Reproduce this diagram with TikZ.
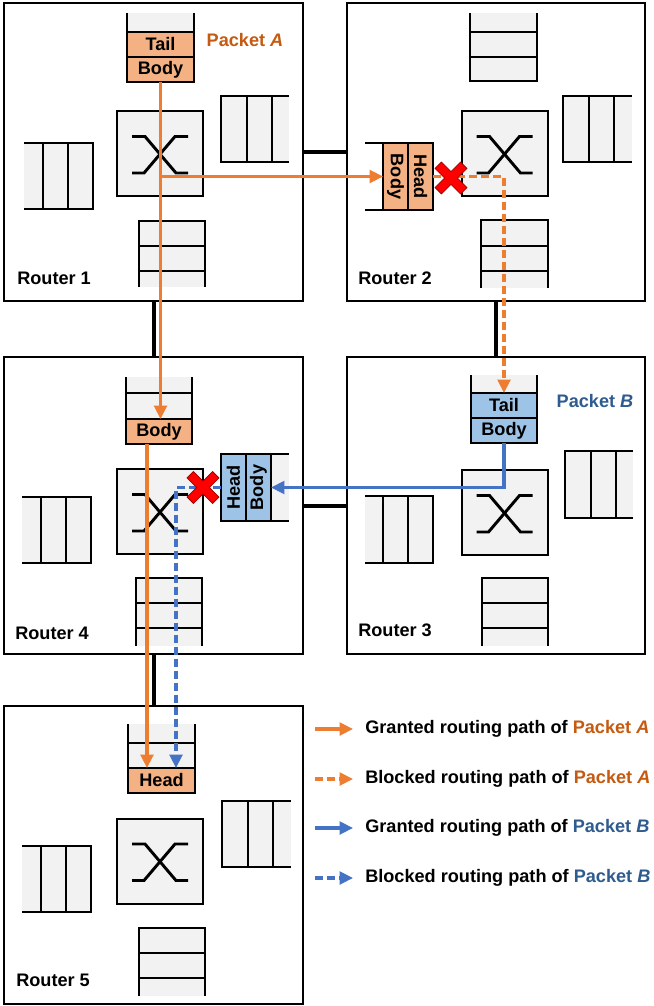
\documentclass[tikz,border=0pt]{standalone}
\usepackage{fontspec}
\setmainfont{Liberation Sans}
\usetikzlibrary{arrows.meta,calc}
\definecolor{cellAfill}{HTML}{F4B183}
\definecolor{cellBfill}{HTML}{9DC3E6}
\definecolor{lineA}{HTML}{ED7D31}
\definecolor{lineB}{HTML}{4472C4}
\definecolor{textA}{HTML}{C55A11}
\definecolor{textB}{HTML}{2F5C8F}
\definecolor{bufgray}{HTML}{F2F2F2}
\definecolor{xred}{HTML}{FF0000}
\definecolor{xredline}{HTML}{A00000}
\def\pxu{0.75pt}
\newcommand\bufN[6]{%
  \fill[bufgray] (#1,#2) rectangle (#3,#4);
  \draw[bufline] (#1,#2) -- (#1,#4) -- (#3,#4) -- (#3,#2) (#1,#5) -- (#3,#5) (#1,#6) -- (#3,#6);}
\newcommand\bufS[6]{%
  \fill[bufgray] (#1,#2) rectangle (#3,#4);
  \draw[bufline] (#1,#4) -- (#1,#2) -- (#3,#2) -- (#3,#4) (#1,#5) -- (#3,#5) (#1,#6) -- (#3,#6);}
\newcommand\bufE[6]{%
  \fill[bufgray] (#1,#2) rectangle (#3,#4);
  \draw[bufline] (#3,#2) -- (#1,#2) -- (#1,#4) -- (#3,#4) (#5,#2) -- (#5,#4) (#6,#2) -- (#6,#4);}
\newcommand\bufW[6]{%
  \fill[bufgray] (#1,#2) rectangle (#3,#4);
  \draw[bufline] (#1,#2) -- (#3,#2) -- (#3,#4) -- (#1,#4) (#5,#2) -- (#5,#4) (#6,#2) -- (#6,#4);}
\newcommand\xbar[3]{%
  \node[xbox] (#1) at (#2,#3) {};
  \draw[xline] (#2-28,#3-17) -- (#2-15,#3-17) -- (#2+16,#3+19.5) -- (#2+28,#3+19.5);
  \draw[xline] (#2+28,#3-17) -- (#2+15,#3-17) -- (#2-16,#3+19.5) -- (#2-28,#3+19.5);}
\newcommand\redx[3]{%
  \coordinate (#1) at (#2,#3);
  \begin{scope}[shift={(#1)},rotate=45]
    \filldraw[fill=xred,draw=xredline,line width=0.6pt] (4.5,18) -- (4.5,4.5) -- (18,4.5) -- (18,-4.5) -- (4.5,-4.5) -- (4.5,-18) -- (-4.5,-18) -- (-4.5,-4.5) -- (-18,-4.5) -- (-18,4.5) -- (-4.5,4.5) -- (-4.5,18) -- cycle;
  \end{scope}}
\begin{document}
\begin{tikzpicture}[x=0.75pt,y=-0.75pt,
  font=\fontsize{13.6}{15}\selectfont\bfseries,
  router/.style={draw,line width=1.5pt,fill=white,inner sep=0pt,outer sep=0pt},
  link/.style={line width=3pt},
  bufline/.style={line width=1.5pt},
  xbox/.style={draw,fill=bufgray,line width=1.5pt,minimum width=86*\pxu,minimum height=85*\pxu,inner sep=0pt,outer sep=0pt},
  xline/.style={line width=2.2pt},
  cellA/.style={draw,line width=1.5pt,fill=cellAfill,inner sep=0pt,outer sep=0pt},
  cellB/.style={draw,line width=1.5pt,fill=cellBfill,inner sep=0pt,outer sep=0pt},
  vcell/.style={minimum width=67*\pxu,minimum height=25*\pxu},
  hcell/.style={minimum width=25*\pxu,minimum height=67*\pxu},
  tip/.style={-{Triangle[length=10pt,width=9.5pt]}},
  pathA/.style={draw=lineA,line width=2.3pt,tip},
  pathAb/.style={pathA,dash pattern=on 6pt off 3pt},
  pathB/.style={draw=lineB,line width=2.3pt,tip},
  pathBb/.style={pathB,dash pattern=on 6pt off 3pt},
  lbl/.style={anchor=west,inner sep=0pt}]
\useasboundingbox[fill=white] (0,0) rectangle (653,1006);
% routers
\node[router,minimum width=299*\pxu,minimum height=298*\pxu] (r1) at (153.5,152) {};
\node[router,minimum width=298*\pxu,minimum height=298*\pxu] (r2) at (496,152) {};
\node[router,minimum width=299*\pxu,minimum height=297*\pxu] (r4) at (153.5,505.5) {};
\node[router,minimum width=298*\pxu,minimum height=297*\pxu] (r3) at (496,505.5) {};
\node[router,minimum width=299*\pxu,minimum height=298*\pxu] (r5) at (153.5,855) {};
% links
\draw[link] (r1.east) -- (r2.west);
\draw[link] (r1.south) -- (r4.north);
\draw[link] (r2.south) -- (r3.north);
\draw[link] (r4.east) -- (r3.west);
\draw[link] (r4.south) -- (r5.north);
% router 1
\bufN{127}{13}{194}{82}{32}{57}
\bufE{221}{96}{289}{162}{247}{272}
\bufW{24}{143}{93}{209}{43}{68}
\bufS{139}{221}{205}{287}{246}{271}
\xbar{r1x}{160}{153.5}
% router 2
\bufN{470}{13}{537}{81}{32}{57}
\bufE{563}{96}{632}{162}{589}{614}
\draw[bufline] (365,143) -- (433,143) -- (433,210) -- (365,210);
\bufS{481}{220}{548}{288}{246}{271}
\xbar{r2x}{504.5}{153.5}
% router 4
\bufN{126}{377}{192}{444}{393}{419}
\bufE{221}{454}{289}{521}{246}{271}
\bufW{22}{497}{91}{563}{41}{66}
\bufS{136}{578}{202}{646}{603}{628}
\xbar{r4x}{160}{511.5}
% router 3
\bufN{471}{375}{537}{443}{393}{418}
\bufE{565}{451}{633}{518}{591}{616}
\bufW{365}{496}{433}{563}{383}{408}
\bufS{482}{578}{548}{646}{603}{628}
\xbar{r3x}{504.5}{512.5}
% router 5
\bufN{128}{724}{195}{793}{743}{768}
\bufE{222}{801}{291}{867}{248}{273}
\bufW{22}{846}{91}{912}{41}{66}
\bufS{139}{928}{205}{996}{953}{978}
\xbar{r5x}{160}{861}
% packet cells
\node[cellA,vcell] (r1tailA) at (160.5,44.5) {Tail};
\node[cellA,vcell] (r1bodyA) at (160.5,69.5) {Body};
\node[cellA,hcell] (r2bodyA) at (395.5,176.5) {\rotatebox{-90}{Body}};
\node[cellA,hcell] (r2headA) at (420.5,176.5) {\rotatebox{-90}{Head}};
\node[cellA,vcell,minimum width=66*\pxu] (r4bodyA) at (159,431.5) {Body};
\node[cellB,hcell] (r4headB) at (233.5,487.5) {\rotatebox{90}{Head}};
\node[cellB,hcell] (r4bodyB) at (258.5,487.5) {\rotatebox{90}{Body}};
\node[cellB,vcell,minimum width=66*\pxu] (r3tailB) at (504,405.5) {Tail};
\node[cellB,vcell,minimum width=66*\pxu] (r3bodyB) at (504,430.5) {Body};
\node[cellA,vcell] (r5headA) at (161.5,780.5) {Head};
% routing paths
\draw[pathA] (r1bodyA.south) -- (r1bodyA.south |- r2bodyA.west) -- (r2bodyA.west);
\draw[pathA] (r1bodyA.south) -- (r1bodyA.south |- r4bodyA.north);
\coordinate (a4out) at ($(r4bodyA.south)+(-12,0)$);
\draw[pathA] (a4out) -- (a4out |- r5headA.north);
\draw[pathAb] (r2headA.east) -- (r2headA.east -| r3tailB.north) -- (r3tailB.north);
\draw[pathB] (r3bodyB.south) -- (r3bodyB.south |- r4bodyB.east) -- (r4bodyB.east);
\coordinate (b4turn) at ($(r4headB.west)+(-45,0)$);
\draw[pathBb] (r4headB.west) -- (b4turn) -- (b4turn |- r5headA.north);
% blocked marks
\redx{x2}{451}{178}
\redx{x4}{203}{487.5}
% labels
\node[lbl] (l1) at (17,278) {Router 1};
\node[lbl] (l2) at (358,278) {Router 2};
\node[lbl] (l4) at (15,633) {Router 4};
\node[lbl] (l3) at (358,630) {Router 3};
\node[lbl] (l5) at (16,980) {Router 5};
\node[text=textA] (pa) at (245,40) {Packet \textit{A}};
\node[text=textB] (pb) at (595,401) {Packet \textit{B}};
% legend
\coordinate (g1s) at (315,729); \coordinate (g1e) at (353,729);
\coordinate (g2s) at (315,779); \coordinate (g2e) at (353,779);
\coordinate (g3s) at (315,828); \coordinate (g3e) at (353,828);
\coordinate (g4s) at (315,878); \coordinate (g4e) at (353,878);
\draw[pathA] (g1s) -- (g1e);
\draw[pathAb] (g2s) -- (g2e);
\draw[pathB] (g3s) -- (g3e);
\draw[pathBb] (g4s) -- (g4e);
\node[lbl] (t1) at (365,729) {Granted routing path of \textcolor{textA}{Packet \textit{A}}};
\node[lbl] (t2) at (365,779) {Blocked routing path of \textcolor{textA}{Packet \textit{A}}};
\node[lbl] (t3) at (365,828) {Granted routing path of \textcolor{textB}{Packet \textit{B}}};
\node[lbl] (t4) at (365,878) {Blocked routing path of \textcolor{textB}{Packet \textit{B}}};
\end{tikzpicture}
\end{document}
